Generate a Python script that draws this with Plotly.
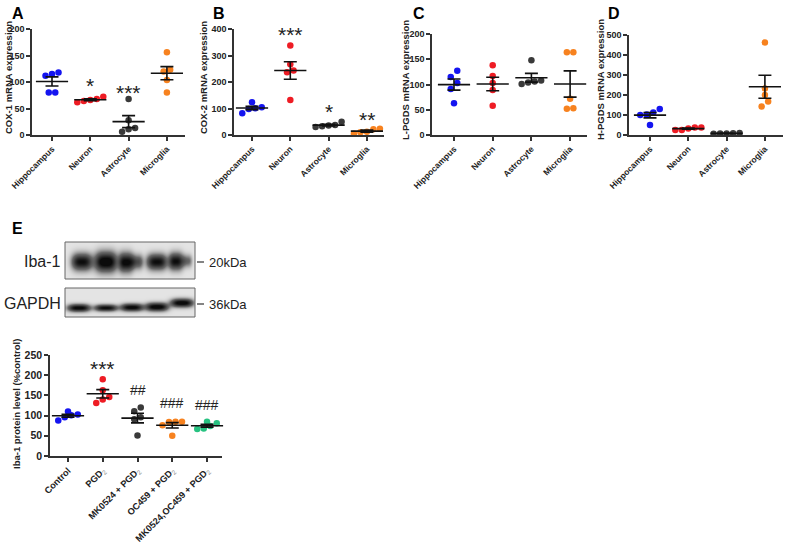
import numpy as np
import plotly.graph_objects as go

W, H = 786, 542
FONT = "Arial, 'Liberation Sans', sans-serif"

# ---------------- data ----------------
mrna_cats = ["Hippocampus", "Neuron", "Astrocyte", "Microglia"]
cox1 = [[115, 118, 112, 80, 80], [66, 68, 72, 62, 64], [68, 6, 13, 11, 28], [156, 120, 123, 104, 80]]
cox2 = [[82, 124, 105, 101, 98], [338, 267, 243, 237, 132], [50, 30, 36, 33, 38], [22, 5, 24, 10, 12]]
lpgds = [[127, 115, 103, 91, 63], [138, 117, 103, 89, 58], [148, 101, 108, 104, 106], [164, 164, 72, 52, 53]]
hpgds = [[113, 130, 100, 103, 50], [25, 38, 38, 25, 33], [8, 10, 9, 7, 6], [463, 233, 200, 167, 142]]

SUB2 = "<sub><span style='font-weight:normal;color:#8a8a8a'>2</span></sub>"
iba_cats = ["Control", "PGD" + SUB2, "MK0524 + PGD" + SUB2, "OC459 + PGD" + SUB2,
            "MK0524,OC459 + PGD" + SUB2]
iba1 = [[88, 101, 110, 96, 103], [190, 163, 131, 140, 146], [120, 111, 96, 91, 51],
        [85, 84, 85, 76, 50], [68, 85, 81, 67, 74]]

sig_A = [(1, 102, "*"), (2, 89, "***")]
sig_B = [(1, 400, "***"), (2, 106, "*"), (3, 79, "**")]
sig_C = []
sig_D = [(3, 515, "**")]
sig_E = [(1, 230, "***"), (2, 163, "##"), (3, 131, "###"), (4, 126, "###")]

# blot band descriptions (lane centre, half-width, darkness, centre row, half-height)
iba_band_x = [16, 40, 60, 71, 91, 110, 121]
iba_band_w = [10, 11, 7, 6, 10, 7, 5]
iba_band_s = [1.0, 1.15, 1.05, 0.6, 1.0, 1.0, 0.45]
iba_band_y = [19, 19, 19.5, 19, 19, 18.5, 18]
iba_band_h = [8, 9.5, 9, 7, 7.5, 8, 6]
gapdh_band_x = [13, 40, 66, 91, 116]
gapdh_band_w = [11, 11, 11, 11, 11]
gapdh_band_s = [1.05, 1.0, 1.05, 1.1, 1.1]
gapdh_band_y = [19, 19, 18.5, 18, 14]
gapdh_band_h = [3.6, 3.2, 3.6, 4.0, 4.0]

# ---------------- styles ----------------
blue, red, dark, orange, green = "#1414f0", "#ee1c24", "#3a3a3a", "#f7821f", "#27c281"
mrna_colors = [blue, red, dark, orange]
iba_colors = [blue, red, dark, orange, green]


def fx(p):
    return p / W


def fy(p):
    return 1 - p / H


def swarm(vals, ppu_y, ppu_x, d=6.5):
    order = np.argsort(vals)
    offs = np.zeros(len(vals))
    bins, cur = [], [order[0]]
    for i in order[1:]:
        if (vals[i] - vals[cur[0]]) * ppu_y < d:
            cur.append(i)
        else:
            bins.append(cur)
            cur = [i]
    bins.append(cur)
    for b in bins:
        n = len(b)
        for k, i in enumerate(b):
            offs[i] = (k - (n - 1) / 2) * d / ppu_x
    return offs


panels = [
    dict(key="A", data=cox1, cats=mrna_cats, colors=mrna_colors, ytitle="COX-1 mRNA expression",
         ymax=200, dtick=50, x0=32, x1=185, c0=52, s=38.3, yb=135, yt=29, tx=8, ty=78,
         sig=sig_A, tf=9, xf=8.5, lx=10, ly=3),
    dict(key="B", data=cox2, cats=mrna_cats, colors=mrna_colors, ytitle="COX-2 mRNA expression",
         ymax=400, dtick=100, x0=234, x1=384, c0=252, s=38.3, yb=135, yt=29, tx=203, ty=78,
         sig=sig_B, tf=9, xf=8.5, lx=211, ly=3),
    dict(key="C", data=lpgds, cats=mrna_cats, colors=mrna_colors, ytitle="L-PGDS mRNA expression",
         ymax=200, dtick=50, x0=432, x1=587, c0=454, s=38.7, yb=135, yt=34, tx=405, ty=80,
         sig=sig_C, tf=9, xf=8.5, lx=411, ly=3),
    dict(key="D", data=hpgds, cats=mrna_cats, colors=mrna_colors, ytitle="H-PGDS mRNA expression",
         ymax=500, dtick=100, x0=629, x1=783, c0=650, s=38.3, yb=135, yt=35, tx=600, ty=80,
         sig=sig_D, tf=9, xf=8.5, lx=606, ly=3),
    dict(key="E", data=iba1, cats=iba_cats, colors=iba_colors, ytitle="Iba-1 protein level (%control)",
         ymax=250, dtick=50, x0=50, x1=222, c0=68, s=34.75, yb=456, yt=355, tx=16, ty=404,
         sig=sig_E, tf=10.5, xf=9.2, lx=10, ly=218),
]

fig = go.Figure()
layout = dict(width=W, height=H, margin=dict(l=0, r=0, t=0, b=0, autoexpand=False), showlegend=False,
              plot_bgcolor="white", paper_bgcolor="white", font=dict(family=FONT, color="#222"))
annotations = []
shapes = []

for idx, p in enumerate(panels):
    n = idx + 1
    xa = "x" if n == 1 else f"x{n}"
    ya = "y" if n == 1 else f"y{n}"
    ppu_x = p["s"]
    ppu_y = (p["yb"] - p["yt"]) / p["ymax"]
    for ci, vals in enumerate(p["data"]):
        vals = np.array(vals, dtype=float)
        offs = swarm(vals, ppu_y, ppu_x)
        fig.add_trace(go.Scatter(x=ci + offs, y=vals, mode="markers", xaxis=xa, yaxis=ya,
                                 marker=dict(color=p["colors"][ci], size=6.5, line=dict(width=0)),
                                 cliponaxis=False, hoverinfo="y"))
        mean = vals.mean()
        sem = vals.std(ddof=1) / np.sqrt(len(vals))
        fig.add_trace(go.Scatter(x=[ci], y=[mean], mode="markers", xaxis=xa, yaxis=ya,
                                 marker=dict(symbol="line-ew", size=23, color="black",
                                             line=dict(width=1.6, color="#111")),
                                 error_y=dict(type="data", array=[sem], color="#111", thickness=1.6, width=6.5),
                                 cliponaxis=False, hoverinfo="y"))
    xr = [(p["x0"] - p["c0"]) / p["s"], (p["x1"] - p["c0"]) / p["s"]]
    xkey = "xaxis" if n == 1 else f"xaxis{n}"
    ykey = "yaxis" if n == 1 else f"yaxis{n}"
    layout[xkey] = dict(domain=[fx(p["x0"]), fx(p["x1"])], range=xr, anchor=ya, automargin=False,
                        tickvals=list(range(len(p["cats"]))), ticktext=p["cats"], tickangle=-45,
                        showline=True, linecolor="#333", linewidth=1.5, ticks="outside", ticklen=4,
                        tickwidth=1.5, tickcolor="#333", showgrid=False, zeroline=False,
                        tickfont=dict(family=FONT, size=p["xf"], color="#222", weight="bold"))
    layout[ykey] = dict(domain=[fy(p["yb"]), fy(p["yt"])], range=[0, p["ymax"]], anchor=xa, automargin=False,
                        dtick=p["dtick"], tick0=0, showline=True, linecolor="#333", linewidth=1.5,
                        ticks="outside", ticklen=4, tickwidth=1.5, tickcolor="#333", showgrid=False,
                        zeroline=False, tickfont=dict(family=FONT, size=p["tf"], color="#222", weight="bold"))
    annotations.append(dict(text=p["ytitle"], xref="paper", yref="paper", x=fx(p["tx"]), y=fy(p["ty"]),
                            textangle=-90, showarrow=False, xanchor="center", yanchor="middle",
                            font=dict(family=FONT, size=9.5, color="#222", weight="bold")))
    annotations.append(dict(text=p["key"], xref="paper", yref="paper", x=fx(p["lx"]), y=fy(p["ly"]),
                            showarrow=False, xanchor="left", yanchor="top",
                            font=dict(family=FONT, size=16, color="black", weight="bold")))
    for (ci, yv, txt) in p["sig"]:
        if "*" in txt:
            annotations.append(dict(text=txt, x=ci, y=yv, xref=xa, yref=ya, showarrow=False,
                                    yanchor="middle", yshift=-5,
                                    font=dict(family=FONT, size=21, color="#222")))
        else:
            annotations.append(dict(text=txt, x=ci, y=yv, xref=xa, yref=ya, showarrow=False,
                                    yanchor="middle",
                                    font=dict(family=FONT, size=14, color="#222")))


# ---------------- western blot ----------------
def blot(nx, ny, lx, lw, ls, cy, hy):
    xs = np.arange(nx)[None, :] + 0.5
    ys = np.arange(ny)[:, None] + 0.5
    z = np.zeros((ny, nx))
    for c, w, s, yc, h in zip(lx, lw, ls, cy, hy):
        z += s * np.exp(-np.abs((xs - c) / w) ** 3) * np.exp(-((ys - yc) / h) ** 2)
    return np.clip(z, 0, 1)


blots = [
    dict(z=blot(130, 37, iba_band_x, iba_band_w, iba_band_s, iba_band_y, iba_band_h),
         top=242, bottom=279, label="Iba-1", kda="20kDa", tick=262),
    dict(z=blot(130, 29, gapdh_band_x, gapdh_band_w, gapdh_band_s, gapdh_band_y, gapdh_band_h),
         top=288, bottom=317, label="GAPDH", kda="36kDa", tick=304),
]
for k, b in enumerate(blots):
    n = 6 + k
    xa, ya = f"x{n}", f"y{n}"
    ny, nx = b["z"].shape
    fig.add_trace(go.Heatmap(z=b["z"], x=np.arange(nx) + 0.5, y=np.arange(ny) + 0.5, xaxis=xa, yaxis=ya,
                             colorscale=[[0, "#e4e4e4"], [0.4, "#6a6a6a"], [1, "#0b0b0b"]],
                             zmin=0, zmax=1, zsmooth="best", showscale=False, hoverinfo="skip"))
    layout[f"xaxis{n}"] = dict(domain=[fx(65), fx(195)], range=[0, nx], visible=False, anchor=ya, automargin=False)
    layout[f"yaxis{n}"] = dict(domain=[fy(b["bottom"]), fy(b["top"])], range=[ny, 0], visible=False, anchor=xa,
                               automargin=False)
    shapes.append(dict(type="rect", xref="paper", yref="paper", x0=fx(65), x1=fx(195),
                       y0=fy(b["bottom"]), y1=fy(b["top"]), line=dict(color="#666", width=1)))
    cy = b["tick"]
    shapes.append(dict(type="line", xref="paper", yref="paper", x0=fx(197), x1=fx(204),
                       y0=fy(cy), y1=fy(cy), line=dict(color="#333", width=1.2)))
    annotations.append(dict(text=b["kda"], xref="paper", yref="paper", x=fx(207), y=fy(cy),
                            xanchor="left", yanchor="middle", showarrow=False,
                            font=dict(family=FONT, size=13, color="#222")))
    annotations.append(dict(text=b["label"], xref="paper", yref="paper", x=fx(63), y=fy(cy - 1),
                            xanchor="right", yanchor="middle", showarrow=False,
                            font=dict(family=FONT, size=16, color="#222")))

layout["annotations"] = annotations
layout["shapes"] = shapes
fig.update_layout(**layout)
fig.write_html("out.html", config={"displayModeBar": False},
               post_script="document.body.style.margin='0px';document.body.style.overflow='hidden';")
